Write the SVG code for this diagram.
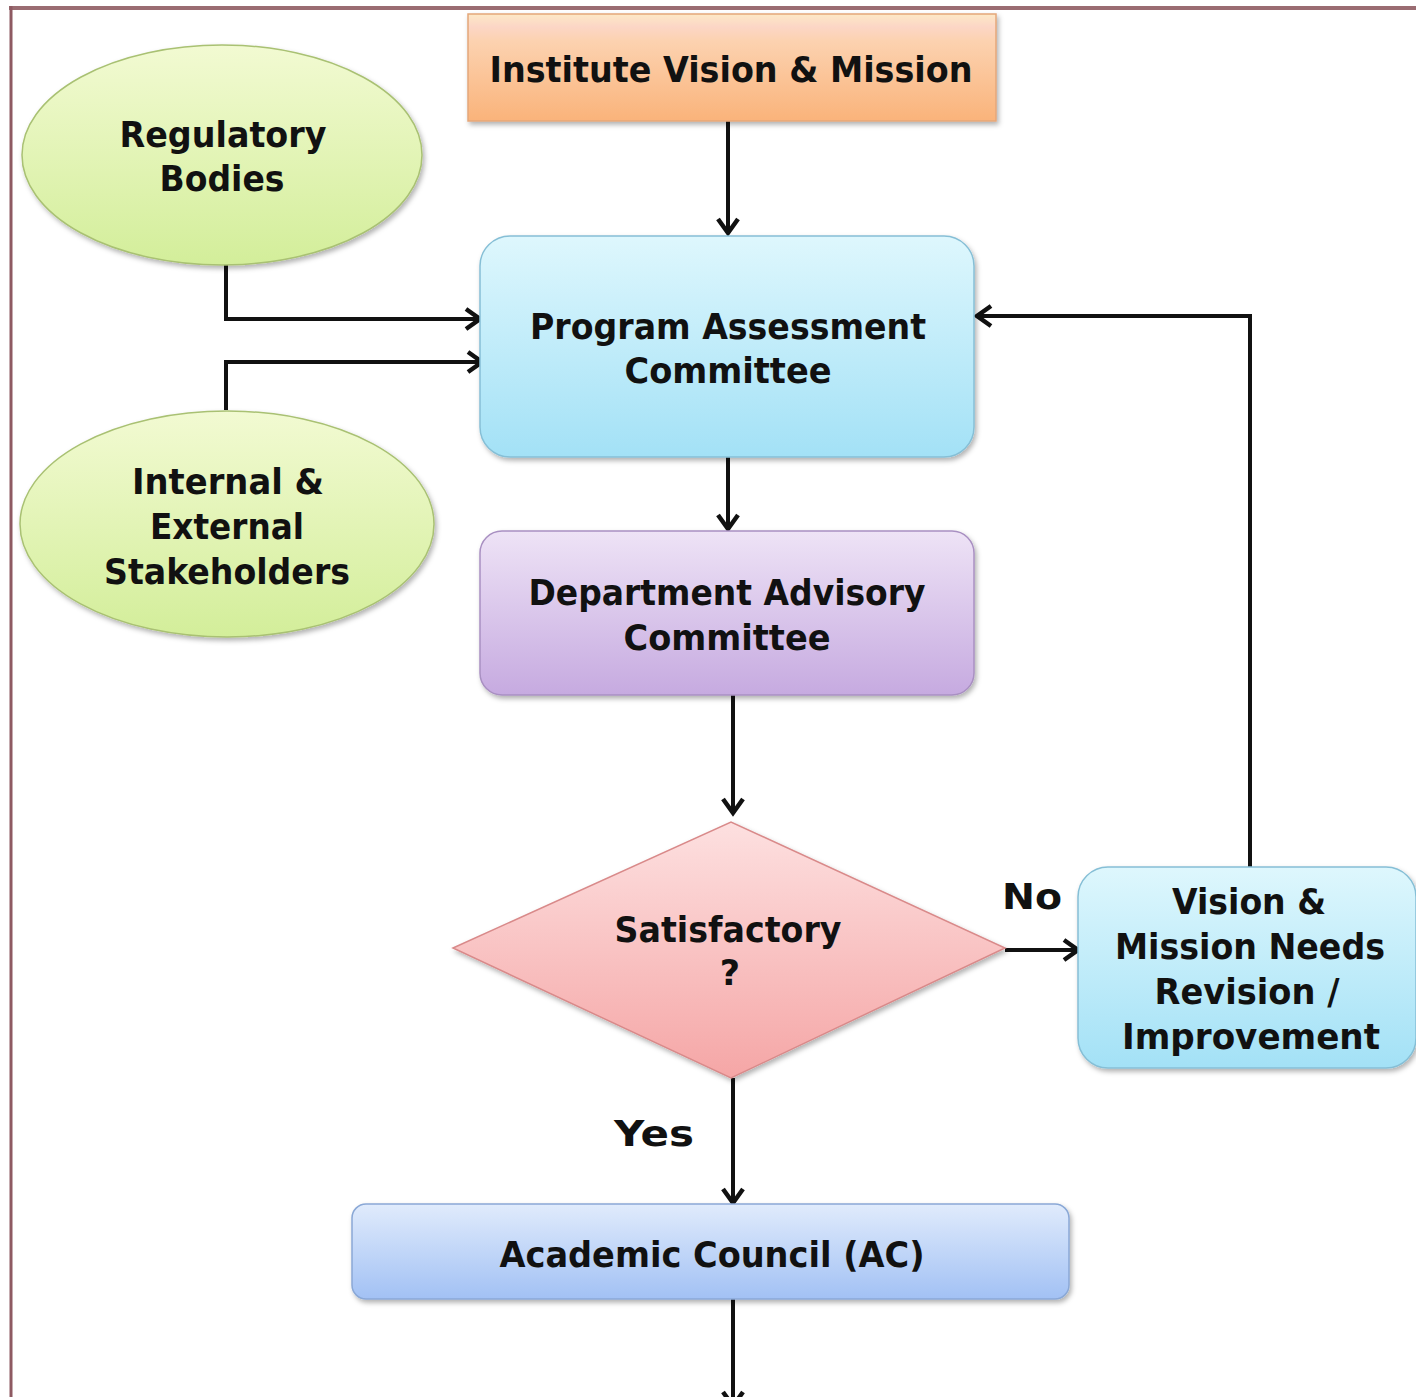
<svg xmlns="http://www.w3.org/2000/svg" width="1416" height="1397" viewBox="0 0 1416 1397">
<defs>
<linearGradient id="gOrange" x1="0" y1="0" x2="0" y2="1">
<stop offset="0" stop-color="#fde9c6"/><stop offset="0.12" stop-color="#fcd6c6"/><stop offset="0.25" stop-color="#fcd2b0"/><stop offset="1" stop-color="#fab37a"/>
</linearGradient>
<linearGradient id="gGreen" x1="0" y1="0" x2="0" y2="1">
<stop offset="0" stop-color="#f2fad2"/><stop offset="1" stop-color="#d3ee9a"/>
</linearGradient>
<linearGradient id="gCyan" x1="0" y1="0" x2="0" y2="1">
<stop offset="0" stop-color="#def7fd"/><stop offset="1" stop-color="#a3e1f6"/>
</linearGradient>
<linearGradient id="gPurple" x1="0" y1="0" x2="0" y2="1">
<stop offset="0" stop-color="#eee3f6"/><stop offset="1" stop-color="#c6aae0"/>
</linearGradient>
<linearGradient id="gPink" x1="0" y1="0" x2="0" y2="1">
<stop offset="0" stop-color="#fde0e0"/><stop offset="1" stop-color="#f5a6a6"/>
</linearGradient>
<linearGradient id="gBlue" x1="0" y1="0" x2="0" y2="1">
<stop offset="0" stop-color="#e0ebfc"/><stop offset="1" stop-color="#a2c1f4"/>
</linearGradient>
<filter id="sh" x="-10%" y="-10%" width="120%" height="125%">
<feDropShadow dx="2" dy="3" stdDeviation="2.5" flood-color="#000" flood-opacity="0.3"/>
</filter>
<marker id="arr" markerUnits="userSpaceOnUse" viewBox="0 0 24 24" refX="20" refY="12" markerWidth="24" markerHeight="24" orient="auto">
<path d="M6,2 L20,12 L6,22" fill="none" stroke="#111" stroke-width="4.5" stroke-linejoin="miter"/>
</marker>
</defs>
<style>
.t{font-family:"DejaVu Sans","Liberation Sans",sans-serif;font-weight:bold;font-size:35px;fill:#111;text-anchor:middle}
.ln{fill:none;stroke:#111;stroke-width:4}
</style>
<rect width="1416" height="1397" fill="#fff"/>
<g id="frame">
<line x1="9" y1="8" x2="1416" y2="8" stroke="#9a6c72" stroke-width="4"/>
<line x1="11" y1="6" x2="11" y2="1397" stroke="#8e5a62" stroke-width="3"/>
</g>
<g id="connectors">
<line class="ln" x1="728" y1="121" x2="728" y2="233" marker-end="url(#arr)"/>
<polyline class="ln" points="226,265 226,319 480,319" marker-end="url(#arr)"/>
<polyline class="ln" points="226,410 226,362 482,362" marker-end="url(#arr)"/>
<line class="ln" x1="728" y1="457" x2="728" y2="529" marker-end="url(#arr)"/>
<line class="ln" x1="733" y1="695" x2="733" y2="813" marker-end="url(#arr)"/>
<line class="ln" x1="1005" y1="950" x2="1078" y2="950" marker-end="url(#arr)"/>
<polyline class="ln" points="1250,867 1250,316 977,316" marker-end="url(#arr)"/>
<line class="ln" x1="733" y1="1078" x2="733" y2="1203" marker-end="url(#arr)"/>
<line class="ln" x1="733" y1="1299" x2="733" y2="1406" marker-end="url(#arr)"/>
<text class="t" x="1032" y="909" font-size="38" textLength="60" lengthAdjust="spacingAndGlyphs">No</text>
<text class="t" x="654" y="1146" font-size="41" textLength="80" lengthAdjust="spacingAndGlyphs">Yes</text>
</g>
<g id="institute">
<rect x="468" y="14" width="528" height="107" fill="url(#gOrange)" stroke="#e4a77a" stroke-width="1.5" filter="url(#sh)"/>
<text class="t" x="731" y="82" textLength="483" lengthAdjust="spacingAndGlyphs">Institute Vision &amp; Mission</text>
</g>
<g id="regulatory">
<ellipse cx="222" cy="155" rx="200" ry="110" fill="url(#gGreen)" stroke="#a9c173" stroke-width="1.5" filter="url(#sh)"/>
<text class="t" x="223" y="147" textLength="207" lengthAdjust="spacingAndGlyphs">Regulatory</text>
<text class="t" x="222" y="191" textLength="125" lengthAdjust="spacingAndGlyphs">Bodies</text>
</g>
<g id="pac">
<rect x="480" y="236" width="494" height="221" rx="30" fill="url(#gCyan)" stroke="#86bfd6" stroke-width="1.5" filter="url(#sh)"/>
<text class="t" x="728" y="339" textLength="396" lengthAdjust="spacingAndGlyphs">Program Assessment</text>
<text class="t" x="728" y="383" textLength="207" lengthAdjust="spacingAndGlyphs">Committee</text>
</g>
<g id="stakeholders">
<ellipse cx="227" cy="524" rx="207" ry="113" fill="url(#gGreen)" stroke="#a9c173" stroke-width="1.5" filter="url(#sh)"/>
<text class="t" x="228" y="494" textLength="192" lengthAdjust="spacingAndGlyphs">Internal &amp;</text>
<text class="t" x="227" y="539" textLength="154" lengthAdjust="spacingAndGlyphs">External</text>
<text class="t" x="227" y="584" textLength="246" lengthAdjust="spacingAndGlyphs">Stakeholders</text>
</g>
<g id="dac">
<rect x="480" y="531" width="494" height="164" rx="22" fill="url(#gPurple)" stroke="#a990c2" stroke-width="1.5" filter="url(#sh)"/>
<text class="t" x="727" y="605" textLength="397" lengthAdjust="spacingAndGlyphs">Department Advisory</text>
<text class="t" x="727" y="650" textLength="207" lengthAdjust="spacingAndGlyphs">Committee</text>
</g>
<g id="decision">
<polygon points="453,948 731,822 1005,948 731,1078" fill="url(#gPink)" stroke="#d98a8a" stroke-width="1.5" filter="url(#sh)"/>
<text class="t" x="728" y="942" textLength="227" lengthAdjust="spacingAndGlyphs">Satisfactory</text>
<text class="t" x="730" y="985">?</text>
</g>
<g id="revision">
<rect x="1078" y="867" width="338" height="201" rx="30" fill="url(#gCyan)" stroke="#86bfd6" stroke-width="1.5" filter="url(#sh)"/>
<text class="t" x="1249" y="914" textLength="154" lengthAdjust="spacingAndGlyphs">Vision &amp;</text>
<text class="t" x="1250" y="959" textLength="270" lengthAdjust="spacingAndGlyphs">Mission Needs</text>
<text class="t" x="1247" y="1004" textLength="185" lengthAdjust="spacingAndGlyphs">Revision /</text>
<text class="t" x="1251" y="1049" textLength="258" lengthAdjust="spacingAndGlyphs">Improvement</text>
</g>
<g id="ac">
<rect x="352" y="1204" width="717" height="95" rx="14" fill="url(#gBlue)" stroke="#8aa8d6" stroke-width="1.5" filter="url(#sh)"/>
<text class="t" x="712" y="1267" textLength="425" lengthAdjust="spacingAndGlyphs">Academic Council (AC)</text>
</g>
</svg>
